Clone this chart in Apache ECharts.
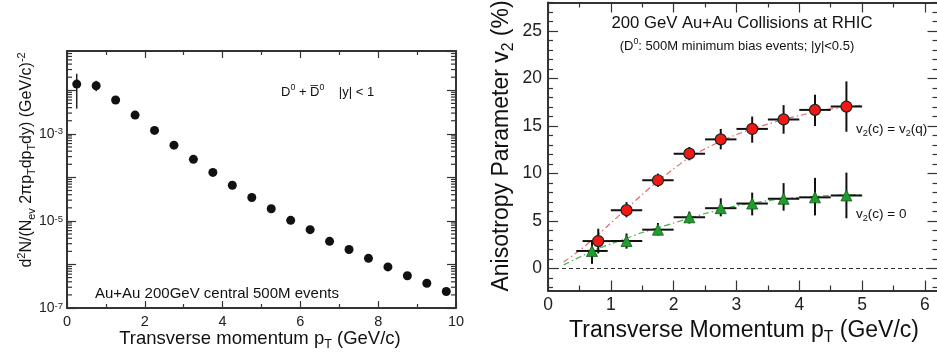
<!DOCTYPE html>
<html>
<head>
<meta charset="utf-8">
<script src="https://cdn.jsdelivr.net/npm/echarts@6.0.0/dist/echarts.min.js"></script>
<style>
  html, body { margin: 0; padding: 0; background: #fff; }
  #chart { width: 937px; height: 352px; }
</style>
</head>
<body>
<div id="chart"></div>
<script>
const FONT = '"Liberation Sans", Arial, Helvetica, sans-serif'

// left panel: D0 + D0bar yield, |y| < 1
const specPt = [0.25, 0.75, 1.25, 1.75, 2.25, 2.75, 3.25, 3.75, 4.25, 4.75, 5.25, 5.75, 6.25, 6.75, 7.25, 7.75, 8.25, 8.75, 9.25, 9.75]
const specYield = [1.39e-2, 1.27e-2, 6.0e-3, 2.7e-3, 1.2e-3, 5.5e-4, 2.6e-4, 1.3e-4, 6.6e-5, 3.45e-5, 1.9e-5, 1.03e-5, 6.3e-6, 3.4e-6, 2.2e-6, 1.38e-6, 8.8e-7, 5.5e-7, 3.7e-7, 2.4e-7]
// only the first two points have visible error bars
const specErrLo = [3.8e-3, 9.5e-3]
const specErrHi = [2.4e-2, 1.65e-2]
const specTickX = [0, 2, 4, 6, 8, 10]
const specLabelExp = [-7, -5, -3]

// right panel: v2 of D0, two scenarios
const v2QPt = [0.8, 1.25, 1.75, 2.25, 2.75, 3.25, 3.75, 4.25, 4.75]
const v2Q = [2.9, 6.15, 9.3, 12.1, 13.6, 14.7, 15.7, 16.7, 17.05]
const v2QLo = [1.6, 5.4, 8.6, 11.4, 12.55, 13.25, 14.2, 15.0, 14.4]
const v2QHi = [4.2, 7.0, 10.0, 12.8, 14.7, 16.0, 17.2, 18.3, 19.7]
const v2QBinLo = [0.55, 1.0, 1.5, 2.0, 2.5, 3.0, 3.5, 4.0, 4.5]
const v2QBinHi = [1.05, 1.5, 2.0, 2.5, 3.0, 3.5, 4.0, 4.5, 5.0]

const v2ZPt = [0.7, 1.25, 1.75, 2.25, 2.75, 3.25, 3.75, 4.25, 4.75]
const v2Z = [1.86, 2.9, 4.1, 5.4, 6.36, 6.85, 7.35, 7.5, 7.7]
const v2ZLo = [0.5, 2.1, 3.5, 4.75, 5.5, 5.6, 6.1, 5.6, 5.3]
const v2ZHi = [3.0, 3.7, 4.8, 6.0, 7.4, 8.0, 9.0, 9.55, 10.1]
const v2ZBinLo = [0.45, 1.0, 1.5, 2.0, 2.5, 3.0, 3.5, 4.0, 4.5]
const v2ZBinHi = [0.95, 1.5, 2.0, 2.5, 3.0, 3.5, 4.0, 4.5, 5.0]

// model curves
const curvePt = [0.25, 0.5, 0.75, 1.0, 1.25, 1.5, 1.75, 2.0, 2.25, 2.5, 2.75, 3.0, 3.25, 3.5, 3.75, 4.0, 4.25, 4.5, 4.75, 5.0]
const curveQ = [0.7, 1.9, 3.3, 4.8, 6.3, 7.8, 9.2, 10.5, 11.7, 12.6, 13.4, 14.1, 14.7, 15.2, 15.7, 16.1, 16.5, 16.8, 17.0, 17.2]
const curveZ = [0.4, 1.2, 2.0, 2.6, 3.2, 3.8, 4.3, 4.8, 5.3, 5.8, 6.2, 6.6, 6.9, 7.15, 7.35, 7.5, 7.6, 7.7, 7.75, 7.8]

const v2TickX = [0, 1, 2, 3, 4, 5, 6]
const v2TickY = [0, 5, 10, 15, 20, 25]

const zip = (a, b) => a.map((v, i) => [v, b[i]])

// minor tick positions
const specMinorX = [1, 3, 5, 7, 9]
const v2MinorX = [0.5, 1.5, 2.5, 3.5, 4.5, 5.5]
const v2MinorY = []
for (let v = -2; v <= 28; v++) if (v % 5 !== 0) v2MinorY.push(v)
const logMinor = []
for (let e = -7; e <= -2; e++) for (let m = 2; m <= 9; m++) if (m * Math.pow(10, e) < 0.08) logMinor.push([0, m * Math.pow(10, e)])

const frame = { color: '#333', width: 2 }

const tickAxis = (o) => ({
  type: o.type || 'value',
  gridIndex: o.grid,
  position: o.pos,
  min: o.min,
  max: o.max,
  logBase: 10,
  axisLine: { show: o.line !== false, onZero: false, lineStyle: frame },
  axisTick: { show: true, inside: true, length: o.len, customValues: o.ticks, lineStyle: { color: '#333', width: 1.2 } },
  axisLabel: o.label ? o.label : { show: false },
  splitLine: { show: false }
})

const v2Label = (vals, margin) => ({
  customValues: vals,
  margin: margin,
  fontSize: 17.5,
  fontFamily: FONT,
  color: '#222'
})

const errRender = (params, api) => {
  const x = api.value(0)
  const y = api.value(1)
  const c = api.coord([x, y])
  const lo = api.coord([x, api.value(2)])
  const hi = api.coord([x, api.value(3)])
  const l = api.coord([api.value(4), y])
  const r = api.coord([api.value(5), y])
  const st = { stroke: '#111', lineWidth: 2 }
  return {
    type: 'group',
    children: [
      { type: 'line', shape: { x1: c[0], y1: lo[1], x2: c[0], y2: hi[1] }, style: st },
      { type: 'line', shape: { x1: l[0], y1: c[1], x2: r[0], y2: c[1] }, style: st }
    ]
  }
}

const rich = (f) => ({
  sub: { fontSize: f * 0.68, fontFamily: FONT, verticalAlign: 'bottom', lineHeight: f * 0.7, fill: '#111' },
  sup: { fontSize: f * 0.68, fontFamily: FONT, verticalAlign: 'top', lineHeight: f * 0.7, fill: '#111' }
})

const label = (text, x, y, f, align, rot) => ({
  type: 'text',
  x: x,
  y: y,
  rotation: rot || 0,
  style: {
    text: text,
    fontSize: f,
    fontFamily: FONT,
    lineHeight: f * 1.3,
    fill: '#111',
    align: align || 'center',
    verticalAlign: 'middle',
    rich: rich(f)
  }
})

const chart = echarts.init(document.getElementById('chart'), null, { renderer: 'canvas' })

chart.setOption({
  animation: false,
  backgroundColor: '#fff',
  grid: [
    { left: 67, top: 51, width: 389, height: 257, outerBoundsMode: 'none' },
    { left: 548, top: 2.5, width: 389.5, height: 288, outerBoundsMode: 'none' }
  ],
  xAxis: [
    tickAxis({ grid: 0, pos: 'bottom', min: 0, max: 10, len: 7, ticks: specTickX,
      label: { customValues: specTickX, margin: 6, fontSize: 14.5, fontFamily: FONT, color: '#222' } }),
    tickAxis({ grid: 0, pos: 'bottom', min: 0, max: 10, len: 4, ticks: specMinorX, line: false }),
    tickAxis({ grid: 0, pos: 'top', min: 0, max: 10, len: 7, ticks: specTickX }),
    tickAxis({ grid: 0, pos: 'top', min: 0, max: 10, len: 4, ticks: specMinorX, line: false }),
    tickAxis({ grid: 1, pos: 'bottom', min: 0, max: 6.2, len: 10, ticks: v2TickX, label: v2Label(v2TickX, 6) }),
    tickAxis({ grid: 1, pos: 'bottom', min: 0, max: 6.2, len: 5, ticks: v2MinorX, line: false }),
    tickAxis({ grid: 1, pos: 'top', min: 0, max: 6.2, len: 10, ticks: v2TickX }),
    tickAxis({ grid: 1, pos: 'top', min: 0, max: 6.2, len: 5, ticks: v2MinorX, line: false })
  ],
  yAxis: [
    tickAxis({ grid: 0, type: 'log', pos: 'left', min: 1e-7, max: 0.08, len: 9,
      label: {
        margin: 4,
        showMaxLabel: false,
        formatter: (v) => {
          const e = Math.round(Math.log10(v))
          return specLabelExp.includes(e) ? '{b|10}{s|' + e + '}' : ''
        },
        rich: {
          b: { fontSize: 14, fontFamily: FONT, color: '#222' },
          s: { fontSize: 9.5, fontFamily: FONT, color: '#222', verticalAlign: 'top', lineHeight: 9 }
        }
      } }),
    tickAxis({ grid: 0, type: 'log', pos: 'right', min: 1e-7, max: 0.08, len: 9 }),
    tickAxis({ grid: 1, pos: 'left', min: -2.3, max: 28, len: 10, ticks: v2TickY, label: v2Label(v2TickY, 6) }),
    tickAxis({ grid: 1, pos: 'left', min: -2.3, max: 28, len: 5, ticks: v2MinorY, line: false }),
    tickAxis({ grid: 1, pos: 'right', min: -2.3, max: 28, len: 10, ticks: v2TickY }),
    tickAxis({ grid: 1, pos: 'right', min: -2.3, max: 28, len: 5, ticks: v2MinorY, line: false })
  ],
  series: [
    {
      // log minor ticks on both sides of the left frame
      type: 'custom',
      xAxisIndex: 0,
      yAxisIndex: 0,
      silent: true,
      data: logMinor,
      renderItem: (params, api) => {
        const a = api.coord([0, api.value(1)])
        const b = api.coord([10, api.value(1)])
        const st = { stroke: '#333', lineWidth: 1.2 }
        return {
          type: 'group',
          children: [
            { type: 'line', shape: { x1: a[0], y1: a[1], x2: a[0] + 5, y2: a[1] }, style: st },
            { type: 'line', shape: { x1: b[0] - 5, y1: b[1], x2: b[0], y2: b[1] }, style: st }
          ]
        }
      }
    },
    {
      type: 'custom',
      xAxisIndex: 0,
      yAxisIndex: 0,
      silent: true,
      data: specErrLo.map((v, i) => [specPt[i], v, specErrHi[i]]),
      renderItem: (params, api) => {
        const lo = api.coord([api.value(0), api.value(1)])
        const hi = api.coord([api.value(0), api.value(2)])
        return { type: 'line', shape: { x1: lo[0], y1: lo[1], x2: hi[0], y2: hi[1] }, style: { stroke: '#222', lineWidth: 1.5 } }
      }
    },
    {
      type: 'scatter',
      xAxisIndex: 0,
      yAxisIndex: 0,
      symbol: 'circle',
      symbolSize: 9,
      itemStyle: { color: '#111', opacity: 1 },
      data: zip(specPt, specYield),
      z: 10
    },
    {
      type: 'line',
      xAxisIndex: 4,
      yAxisIndex: 2,
      data: zip(curvePt, curveQ),
      smooth: 0.3,
      showSymbol: false,
      lineStyle: { color: '#e46a6a', width: 1.2, type: [6, 3, 1.5, 3] },
      markLine: {
        silent: true,
        symbol: ['none', 'none'],
        label: { show: false },
        lineStyle: { color: '#333', width: 1, type: [4, 3] },
        data: [{ yAxis: 0 }]
      },
      z: 2
    },
    {
      type: 'line',
      xAxisIndex: 4,
      yAxisIndex: 2,
      data: zip(curvePt, curveZ),
      smooth: 0.3,
      showSymbol: false,
      lineStyle: { color: '#4caf50', width: 1.2, type: [6, 3, 1.5, 3] },
      z: 2
    },
    {
      type: 'custom',
      xAxisIndex: 4,
      yAxisIndex: 2,
      silent: true,
      data: v2QPt.map((x, i) => [x, v2Q[i], v2QLo[i], v2QHi[i], v2QBinLo[i], v2QBinHi[i]]),
      renderItem: errRender,
      z: 3
    },
    {
      type: 'custom',
      xAxisIndex: 4,
      yAxisIndex: 2,
      silent: true,
      data: v2ZPt.map((x, i) => [x, v2Z[i], v2ZLo[i], v2ZHi[i], v2ZBinLo[i], v2ZBinHi[i]]),
      renderItem: errRender,
      z: 3
    },
    {
      type: 'scatter',
      xAxisIndex: 4,
      yAxisIndex: 2,
      symbol: 'circle',
      symbolSize: 11,
      itemStyle: { color: '#f01a14', borderColor: '#222', borderWidth: 1.2, opacity: 1 },
      data: zip(v2QPt, v2Q),
      z: 10
    },
    {
      type: 'scatter',
      xAxisIndex: 4,
      yAxisIndex: 2,
      symbol: 'triangle',
      symbolSize: 11,
      itemStyle: { color: '#1e9e2e', borderColor: '#145a14', borderWidth: 0.8, opacity: 1 },
      data: zip(v2ZPt, v2Z),
      z: 10
    }
  ],
  graphic: [
    label('d{sup|2}N/(N{sub|ev} 2πp{sub|T}dp{sub|T}dy) (GeV/c){sup|-2}', 27, 160, 16, 'center', Math.PI / 2),
    label('Transverse momentum p{sub|T} (GeV/c)', 260, 339, 18.5, 'center'),
    label('D{sup|0} + D\u0305{sup|0}    |y| < 1', 281, 92, 13, 'left'),
    label('Au+Au 200GeV central 500M events', 95, 294, 15, 'left'),
    label('200 GeV Au+Au Collisions at RHIC', 742, 23, 16.7, 'center'),
    label('(D{sup|0}: 500M minimum bias events; |y|<0.5)', 737, 46, 13, 'center'),
    label('v{sub|2}(c) = v{sub|2}(q)', 856, 129, 13.5, 'left'),
    label('v{sub|2}(c) = 0', 856, 214, 13.5, 'left'),
    label('Anisotropy Parameter v{sub|2} (%)', 502, 146, 23, 'center', Math.PI / 2),
    label('Transverse Momentum p{sub|T} (GeV/c)', 744, 331, 23, 'center')
  ]
})
</script>
</body>
</html>
